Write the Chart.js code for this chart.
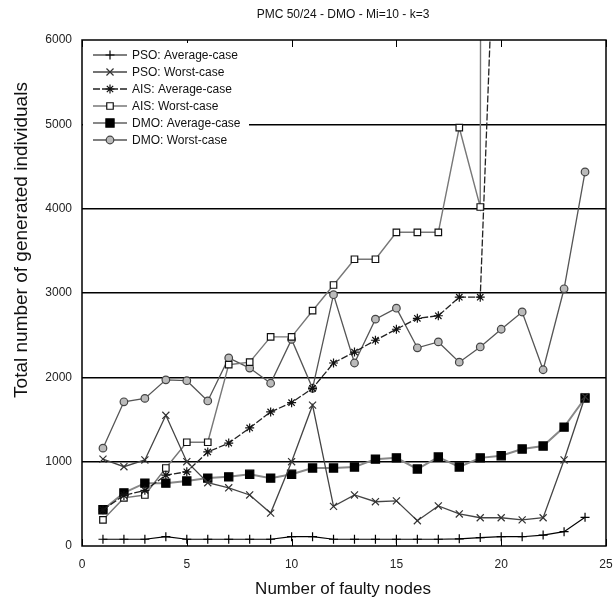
<!DOCTYPE html>
<html>
<head>
<meta charset="utf-8">
<script src="https://cdn.jsdelivr.net/npm/chart.js@4/dist/chart.umd.min.js"></script>
<style>
  html, body { margin: 0; padding: 0; background: #fff; }
  canvas { display: block; }
</style>
</head>
<body>
<canvas id="chart" width="613" height="604"></canvas>
<script>
// values (x = number of faulty nodes)
const nodes = [1, 2, 3, 4, 5, 6, 7, 8, 9, 10, 11, 12, 13, 14, 15, 16, 17, 18, 19, 20, 21, 22, 23, 24];
const psoAverage = [80, 80, 80, 110, 80, 80, 80, 80, 80, 110, 110, 80, 80, 80, 80, 80, 80, 85, 100, 110, 110, 130, 170, 340];
const psoWorst = [1030, 940, 1020, 1550, 1000, 750, 690, 605, 390, 1000, 1670, 470, 605, 525, 535, 300, 475, 380, 335, 335, 310, 335, 1020, 1770];
const aisAverage = [430, 600, 660, 840, 880, 1115, 1220, 1400, 1590, 1700, 1870, 2170, 2300, 2440, 2570, 2700, 2730, 2950, 2950, 9500];
const aisWorst = [310, 570, 605, 925, 1230, 1230, 2150, 2180, 2480, 2480, 2790, 3095, 3400, 3400, 3720, 3720, 3720, 4960, 4020, 150000];
const dmoAverage = [430, 630, 745, 745, 770, 805, 820, 850, 805, 850, 925, 925, 937, 1030, 1045, 913, 1055, 937, 1045, 1070, 1150, 1185, 1410, 1755];
const dmoWorst = [1160, 1710, 1750, 1970, 1960, 1720, 2230, 2110, 1930, 2450, 1870, 2980, 2170, 2690, 2820, 2350, 2420, 2180, 2360, 2570, 2775, 2090, 3050, 4435];

const xTicks = [0, 5, 10, 15, 20, 25];
const chartTitle = "PMC 50/24 - DMO - Mi=10 - k=3";
const xTitle = "Number of faulty nodes";
const yTitle = "Total number of generated individuals";

const FONT = "'Liberation Sans', Arial, sans-serif";

// one entry per curve: line + marker style
const seriesStyles = [
    { label: "PSO: Average-case", values: psoAverage, line: "#000", width: 1.2, marker: "cross", r: 4.5, mBorder: "#000", mFill: "#000" },
    { label: "PSO: Worst-case", values: psoWorst, line: "#444", width: 1.3, marker: "crossRot", r: 5, mBorder: "#333", mFill: "#333" },
    { label: "AIS: Average-case", values: aisAverage, line: "#222", width: 1.3, marker: "star", r: 4.5, mBorder: "#111", mFill: "#111", dash: [7, 2] },
    { label: "AIS: Worst-case", values: aisWorst, line: "#777", width: 1.4, marker: "rect", r: 4.6, mBorder: "#111", mFill: "#fff" },
    { label: "DMO: Average-case", values: dmoAverage, line: "#888", width: 2, marker: "rect", r: 5.8, mBorder: "#000", mFill: "#000" },
    { label: "DMO: Worst-case", values: dmoWorst, line: "#555", width: 1.3, marker: "circle", r: 3.8, mBorder: "#444", mFill: "#bbb" }
];

function toPoints(values) {
    return values.map((v, i) => ({ x: nodes[i], y: v }));
}

const datasets = seriesStyles.map(s => ({
    label: s.label,
    data: toPoints(s.values),
    borderColor: s.line,
    borderWidth: s.width,
    borderDash: s.dash || [],
    pointStyle: s.marker,
    pointRadius: s.r,
    pointBorderColor: s.mBorder,
    pointBackgroundColor: s.mFill,
    pointBorderWidth: 1.2,
    tension: 0,
    fill: false
}));

// frame, inner ticks, titles and the legend box
const framePlugin = {
    id: "frame",
    afterDraw(chart) {
        const ctx = chart.ctx;
        const a = chart.chartArea;
        const xs = chart.scales.x;

        ctx.save();
        ctx.strokeStyle = "#000";
        ctx.lineWidth = 1.5;
        ctx.strokeRect(a.left, a.top, a.right - a.left, a.bottom - a.top);

        ctx.lineWidth = 1;
        xTicks.forEach(t => {
            const px = Math.round(xs.getPixelForValue(t)) + 0.5;
            ctx.beginPath();
            ctx.moveTo(px, a.bottom);
            ctx.lineTo(px, a.bottom - 7);
            ctx.moveTo(px, a.top);
            ctx.lineTo(px, a.top + 7);
            ctx.stroke();
        });

        // titles
        ctx.fillStyle = "#111";
        ctx.textAlign = "center";
        ctx.textBaseline = "middle";
        ctx.font = "12px " + FONT;
        ctx.fillText(chartTitle, 343, 15);
        ctx.font = "17px " + FONT;
        ctx.fillText(xTitle, 343, 589);
        ctx.save();
        ctx.translate(22, 240);
        ctx.rotate(-Math.PI / 2);
        ctx.font = "19px " + FONT;
        ctx.fillText(yTitle, 0, 0);
        ctx.restore();

        // legend
        ctx.fillStyle = "#fff";
        ctx.fillRect(a.left + 1, a.top + 3, 166, 108);
        ctx.font = "12px " + FONT;
        ctx.textAlign = "left";
        seriesStyles.forEach((s, i) => {
            const y = 55 + i * 17;
            ctx.strokeStyle = s.line;
            ctx.lineWidth = s.width;
            ctx.setLineDash(s.dash || []);
            ctx.beginPath();
            ctx.moveTo(93, y);
            ctx.lineTo(127, y);
            ctx.stroke();
            ctx.setLineDash([]);
            ctx.strokeStyle = s.mBorder;
            ctx.fillStyle = s.mFill;
            ctx.lineWidth = 1.2;
            Chart.helpers.drawPoint(ctx, { pointStyle: s.marker, radius: s.r, rotation: 0, borderWidth: 1.2 }, 110, y);
            ctx.fillStyle = "#111";
            ctx.fillText(s.label, 132, y + 1);
        });
        ctx.restore();
    }
};

new Chart(document.getElementById("chart"), {
    type: "line",
    data: { datasets: datasets },
    options: {
        responsive: false,
        animation: false,
        devicePixelRatio: 1,
        layout: { padding: { top: 40, right: 6, left: 0, bottom: 0 } },
        plugins: {
            legend: { display: false },
            tooltip: { enabled: false }
        },
        scales: {
            x: {
                type: "linear",
                min: 0,
                max: 25,
                border: { display: false },
                grid: { display: false },
                ticks: {
                    stepSize: 5,
                    autoSkip: false,
                    maxRotation: 0,
                    padding: 3,
                    color: "#222",
                    font: { family: FONT, size: 12 },
                    callback: v => String(v)
                },
                afterFit(s) {
                    s.height = 58;
                    s.paddingLeft = 0;
                    s.paddingRight = 0;
                }
            },
            y: {
                min: 0,
                max: 6000,
                border: { display: false },
                grid: {
                    drawTicks: false,
                    lineWidth: 1.5,
                    color: c => (c.tick.value > 0 && c.tick.value < 6000) ? "#000" : "rgba(0,0,0,0)"
                },
                ticks: {
                    stepSize: 1000,
                    padding: 10,
                    color: "#222",
                    font: { family: FONT, size: 12 },
                    callback: v => String(v)
                },
                afterFit(s) {
                    s.width = 82;
                    s.paddingTop = 0;
                    s.paddingBottom = 0;
                }
            }
        }
    },
    plugins: [framePlugin]
});
</script>
</body>
</html>
